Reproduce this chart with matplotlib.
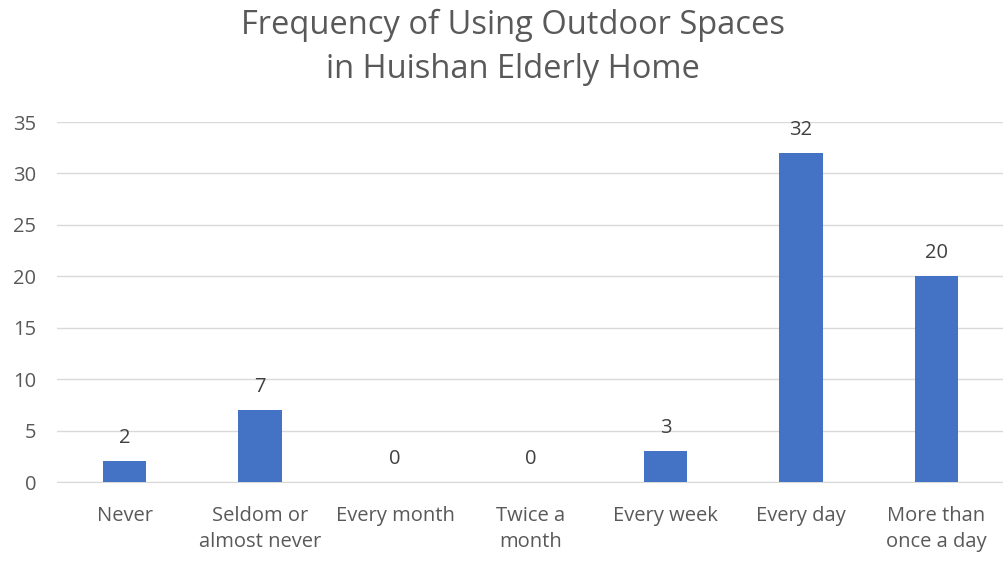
import matplotlib
matplotlib.use("Agg")
import matplotlib.pyplot as plt

categories = ["Never", "Seldom or\nalmost never", "Every month", "Twice a\nmonth",
              "Every week", "Every day", "More than\nonce a day"]
counts = [2, 7, 0, 0, 3, 32, 20]

plt.rcParams['font.family'] = ['Open Sans', 'DejaVu Sans']
text_color = "#595959"

fig = plt.figure(figsize=(10.04, 5.61), dpi=100)
ax = fig.add_axes([0.0568, 0.1408, 0.943, 0.6417])

x = list(range(len(categories)))
ax.bar(x, counts, width=0.32, color="#4472C4", zorder=3)
for xi, v in zip(x, counts):
    ax.text(xi, v + 1.3, str(v), ha="center", va="bottom", fontsize=14.5, color="#404040")

ax.set_xlim(-0.5, len(categories) - 0.5)
ax.set_ylim(0, 35)
ax.set_yticks(range(0, 36, 5))
ax.set_xticks(x)
ax.set_xticklabels(categories, fontsize=14.5, color=text_color, linespacing=1.45)
ax.tick_params(axis="y", labelsize=14.5, labelcolor=text_color, length=0, pad=15)
ax.tick_params(axis="x", length=0, pad=17)
ax.grid(axis="y", color="#d9d9d9", linewidth=1, zorder=0)
for s in ["top", "right", "left"]:
    ax.spines[s].set_visible(False)
ax.spines["bottom"].set_color("#d9d9d9")

fig.text(0.511, 0.985, "Frequency of Using Outdoor Spaces\nin Huishan Elderly Home",
         ha="center", va="top", fontsize=23.5, color=text_color, linespacing=1.45)

fig.savefig("out.png", dpi=100)
